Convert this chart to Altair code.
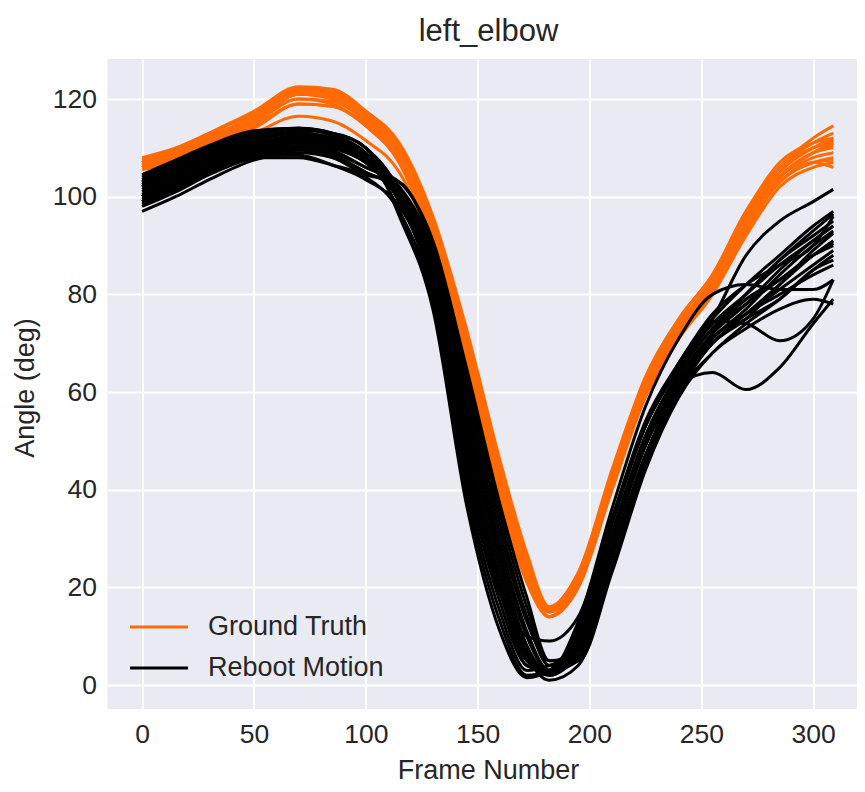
import altair as alt
import pandas as pd

FRAMES = [0, 15, 30, 50, 70, 85, 100, 115, 130, 145, 160, 172, 182, 195, 210, 225, 240, 255, 270, 285, 300, 309]

# Ground Truth trials (deg)
GT_01 = [107, 109, 112, 116, 121, 120.5, 116.5, 110, 95, 72, 45, 26, 16, 22, 41, 60, 72, 81, 94, 104, 109, 110]
GT_02 = [106, 108, 111, 115, 120, 119.5, 115.5, 108, 92, 68, 41, 23, 14, 21, 41, 61, 73, 82, 95, 105, 110, 111]
GT_03 = [108, 110, 113, 117, 122, 121.5, 117.5, 111, 96, 73, 46, 27, 16, 23, 42, 61, 73, 82, 96, 106, 111, 113]
GT_04 = [105.5, 107.5, 110.5, 114, 119, 118.5, 114.5, 107, 90, 66, 40, 22, 14, 20, 40, 60, 72, 81, 93, 103, 107, 108]
GT_05 = [107.5, 109.5, 113, 117.5, 122.5, 122, 117.5, 110, 93, 69, 42, 24, 15, 21, 42, 62, 74, 83, 96, 106, 112, 114.5]
GT_06 = [106.5, 108.5, 111.5, 115.5, 121, 120.5, 116, 109, 93, 70, 43, 25, 15.5, 22, 43, 62, 74, 82, 94, 103, 107, 107.5]
GT_07 = [107, 109, 112, 116.5, 122, 121, 115.5, 107, 90, 66, 40, 23, 14, 21, 40, 59, 71, 80, 93, 104, 109, 110.5]
GT_08 = [106, 108, 111, 114.5, 119, 118.5, 115, 109, 94, 72, 45, 26, 15, 21, 41, 60, 73, 82, 95, 104, 108, 109]
GT_09 = [107.5, 109.5, 112.5, 116, 121.5, 121, 117, 110, 94, 70, 43, 25, 15, 22, 42, 61, 73, 81, 94, 104, 109, 111]
GT_10 = [106.5, 108.5, 112, 116.5, 122, 121.5, 116.5, 108, 91, 67, 41, 24, 15, 22, 43, 63, 75, 84, 97, 107, 111, 112]
GT_11 = [107, 109, 112, 116, 120, 119, 114.5, 107, 91, 68, 42, 24, 15, 21, 41, 60, 72, 81, 94, 103, 107, 106]
GT_12 = [106, 108, 111.5, 115.5, 121, 120.5, 116.5, 109.5, 93, 70, 43, 25, 16, 23, 44, 63, 75, 84, 97, 106, 110, 111.5]
GT_13 = [104.5, 107, 110, 113, 116.5, 115.5, 111.5, 105, 89, 64, 38, 21, 14, 20, 40, 59, 71, 80, 92, 102, 106, 107]
GT_14 = [107, 109, 112, 116, 121, 120, 115.5, 108, 92, 69, 42, 24, 15, 21, 41, 61, 73, 82, 95, 105, 110, 112]

# Reboot Motion trials (deg)
RM_01 = [103, 106, 109, 112, 113.5, 113, 110, 101, 80, 43, 17, 4, 3, 11, 33, 53, 65, 75, 88, 95, 99, 101.5]
RM_02 = [100, 103, 106, 109.5, 111, 110, 107, 99, 82, 47, 20, 4, 3, 13, 36, 57, 71, 80, 82, 81, 81, 83]
RM_03 = [99, 102, 105.5, 109, 110, 108.5, 105, 101, 86, 55, 28, 10, 3, 6, 26, 46, 61.5, 64, 60.5, 65, 74, 79]
RM_04 = [102, 105, 108, 111, 112, 111, 108, 97, 78, 39, 13, 2, 3, 9, 30, 50, 64, 74.5, 74, 70.5, 75, 83]
RM_05 = [104, 107, 110, 113, 114, 113, 110, 96, 77, 37, 11, 1.5, 3, 10, 31, 51, 64, 73, 80, 87, 92, 95]
RM_06 = [101, 104, 107, 110, 111.5, 110.5, 107, 100, 84, 51, 24, 7, 2, 8, 29, 49, 62, 71, 77, 84, 90, 93]
RM_07 = [98, 101, 104.5, 108, 109.5, 108.5, 105, 101.5, 87, 57, 29, 11, 3, 7, 27, 47, 61, 70, 76, 82, 88, 91]
RM_08 = [97, 100, 103.5, 107.5, 109, 108, 104.5, 103, 90, 63, 35, 16, 4, 9, 30, 50, 63, 72, 78, 85, 91, 94]
RM_09 = [102.5, 105.5, 108.5, 111.5, 113, 112, 109, 99, 81, 45, 19, 5, 3, 8, 29, 49, 62, 72, 80, 87, 93, 96.5]
RM_10 = [100.5, 103.5, 106.5, 110, 111.5, 110.5, 107.5, 100.5, 85, 53, 26, 8, 2.5, 5.5, 26, 46, 60, 70, 75, 79, 85, 88]
RM_11 = [99.5, 102.5, 105.5, 108, 108, 106.5, 104, 97, 79, 41, 15, 3, 4, 7, 27, 47, 61, 71, 76, 80, 84, 86]
RM_12 = [100, 103, 106, 108.5, 108.5, 106.5, 103.5, 98, 83, 49, 22, 6, 3, 10, 31, 51, 64, 73, 78, 83, 88, 90]
RM_13 = [103.5, 106.5, 109.5, 112.5, 114, 113, 110, 100, 80, 43, 19, 10, 9, 14, 34, 53, 65, 74, 80, 86, 91, 94]
RM_14 = [101.5, 104.5, 107.5, 110.5, 112, 111, 108, 101, 86, 55, 28, 10, 3, 5, 24, 45, 60, 71, 76, 81, 86, 89]
RM_15 = [99, 102, 105, 108.5, 110, 109, 106, 102, 89, 61, 33, 14, 4, 11, 33, 53, 66, 75, 82, 88, 94, 97]
RM_16 = [104.5, 107.5, 110.5, 113.5, 114, 112.5, 109, 99, 82, 47, 20, 5, 2, 7, 27, 47, 61, 70, 75, 82, 89, 92.5]
RM_17 = [102, 105, 108, 111, 112.5, 111.5, 108.5, 102, 88, 59, 31, 13, 5, 5, 23, 44, 59, 68, 73, 77, 79, 78]
RM_18 = [98.5, 101.5, 105, 109, 110.5, 109.5, 106, 103, 91, 65, 37, 18, 5, 7, 29, 49, 62, 72, 79, 83, 88, 90.5]
RM_19 = [103, 106, 109, 112, 113, 112, 108.5, 99, 83, 49, 22, 6, 1, 4, 24, 45, 60, 68, 74, 79, 85, 87]
RM_20 = [100, 103, 106.5, 110, 111, 110, 107, 100.5, 85, 53, 26, 8, 2.5, 12, 34, 54, 66, 76, 82, 86, 90, 96]

GT_CURVES = [GT_01, GT_02, GT_03, GT_04, GT_05, GT_06, GT_07, GT_08, GT_09, GT_10, GT_11, GT_12, GT_13, GT_14]
RM_CURVES = [RM_01, RM_02, RM_03, RM_04, RM_05, RM_06, RM_07, RM_08, RM_09, RM_10,
             RM_11, RM_12, RM_13, RM_14, RM_15, RM_16, RM_17, RM_18, RM_19, RM_20]

X_TICKS = [0, 50, 100, 150, 200, 250, 300]
Y_TICKS = [0, 20, 40, 60, 80, 100, 120]
SERIES = ["Ground Truth", "Reboot Motion"]
COLORS = ["#ff6a05", "#000000"]
TITLE = ["left_elbow"]

FONT = "Liberation Sans"
TEXT_COLOR = "#262626"

rows = []
for name, curves in zip(SERIES, (GT_CURVES, RM_CURVES)):
    for i, curve in enumerate(curves):
        for f, v in zip(FRAMES, curve):
            rows.append({"series": name, "trial": f"{name} {i + 1}", "frame": f, "angle": v})
df = pd.DataFrame(rows)

x_enc = alt.X(
    "frame:Q",
    scale=alt.Scale(domain=[-15.45, 319.6], nice=False, zero=False),
    axis=alt.Axis(values=X_TICKS, title="Frame Number", labelPadding=33,
                  labelBaseline="alphabetic", titleX=380.5, titleY=69,
                  titleBaseline="alphabetic", titleAlign="center"),
)
y_enc = alt.Y(
    "angle:Q",
    scale=alt.Scale(domain=[-4.9, 128.2], nice=False, zero=False),
    axis=alt.Axis(values=Y_TICKS, title="Angle (deg)", labelPadding=11,
                  titleX=-74.5, titleY=328.5, titleAngle=270,
                  titleBaseline="alphabetic", titleAlign="center"),
)

layers = []
for name, color in zip(SERIES, COLORS):
    layers.append(
        alt.Chart(df[df["series"] == name])
        .mark_line(color=color, strokeWidth=3, interpolate="monotone")
        .encode(x=x_enc, y=y_enc, detail="trial:N")
    )

# legend (inside the plot, lower left, no frame)
LEG_Y = [568, 609]
for name, color, yy in zip(SERIES, COLORS, LEG_Y):
    ldf = pd.DataFrame({"label": [name]})
    layers.append(
        alt.Chart(ldf).mark_rule(color=color, strokeWidth=3)
        .encode(x=alt.value(22.5), x2=alt.value(80.5), y=alt.value(yy))
    )
    layers.append(
        alt.Chart(ldf).mark_text(font=FONT, fontSize=27, color=TEXT_COLOR,
                                 align="left", baseline="middle")
        .encode(x=alt.value(100.5), y=alt.value(yy), text="label:N")
    )

# chart title drawn as a text mark above the plot area
layers.append(
    alt.Chart(pd.DataFrame({"title": TITLE}))
    .mark_text(font=FONT, fontSize=31, color=TEXT_COLOR, align="center",
               baseline="alphabetic")
    .encode(x=alt.value(381), y=alt.value(-18), text="title:N")
)

chart = (
    alt.layer(*layers)
    .properties(
        width=749.5,
        height=650,
        padding={"left": 99.5, "top": 51, "right": 0, "bottom": 75},
        autosize=alt.AutoSizeParams(type="none"),
    )
    .configure_view(fill="#eaeaf2", strokeWidth=0)
    .configure_axis(
        domain=False, ticks=False, tickSize=0,
        grid=True, gridColor="#ffffff", gridWidth=2,
        labelFont=FONT, labelFontSize=26.5, labelColor=TEXT_COLOR,
        titleFont=FONT, titleFontSize=27, titleColor=TEXT_COLOR, titleFontWeight="normal",
    )
)

chart.save("out.html", embed_options={"renderer": "svg", "actions": False})
